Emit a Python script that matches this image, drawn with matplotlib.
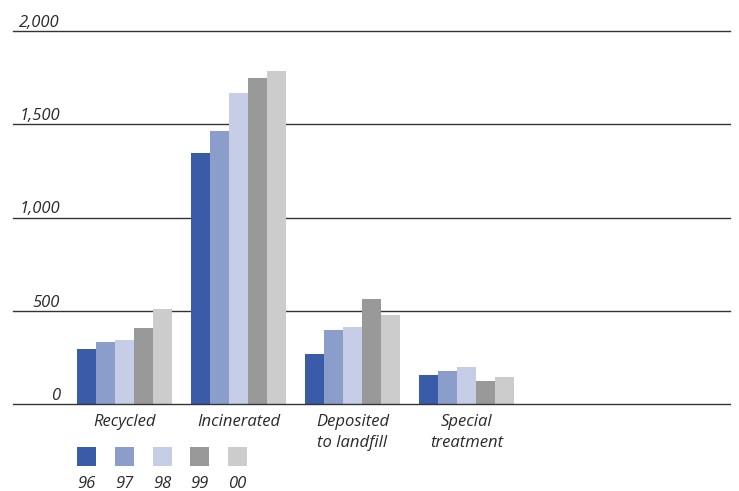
import matplotlib
matplotlib.use("Agg")
import matplotlib.pyplot as plt
from matplotlib.patches import Rectangle
import numpy as np

categories = ["Recycled", "Incinerated", "Deposited\nto landfill", "Special\ntreatment"]
years = ["96", "97", "98", "99", "00"]
values = {
    "96": [295, 1346, 268, 155],
    "97": [332, 1464, 397, 177],
    "98": [343, 1668, 413, 198],
    "99": [407, 1748, 563, 123],
    "00": [509, 1786, 477, 145],
}
colors = ["#3A5BA8", "#8A9DCB", "#C5CEE6", "#999999", "#CCCCCC"]
yticks = [0, 500, 1000, 1500, 2000]
ytick_labels = ["0", "500", "1,000", "1,500", "2,000"]

W, H = 739, 491
fig = plt.figure(figsize=(W / 100, H / 100), dpi=100)
FONT = "Open Sans"
FW = "normal"
FS = 12
TC = "#2a2a2a"

def fx(px):
    return px / W

def fy(py):
    return 1 - py / H

ax_left, ax_right, ax_top, ax_bottom = 13, 730, 31, 404
ax = fig.add_axes([fx(ax_left), fy(ax_bottom), fx(ax_right - ax_left), (ax_bottom - ax_top) / H])
ax.set_ylim(0, 2000)
pitch = 114.0
g0 = 124.5
ax.set_xlim(-(g0 - ax_left) / pitch, (ax_right - g0) / pitch)
ax.axis("off")

bw = 19 / pitch
x = np.arange(len(categories))
for i, (yr, c) in enumerate(zip(years, colors)):
    ax.bar(x + (i - 2) * bw, values[yr], width=bw, color=c, linewidth=0, zorder=2)

for t in yticks:
    ax.axhline(t, color="#333333", lw=1.0, zorder=3 if t == 0 else 1, clip_on=False)

for t, lab in zip(yticks, ytick_labels):
    ax.annotate(lab, xy=(fx(60), t), xycoords=("figure fraction", "data"),
                xytext=(0, 3), textcoords="offset points",
                ha="right", va="baseline", fontsize=FS, style="italic", weight=FW,
                family=FONT, color=TC)

for i, cat in enumerate(categories):
    ax.annotate(cat, xy=(i, 0), xycoords="data", xytext=(0, -7), textcoords="offset points",
                ha="center", va="top", fontsize=FS, style="italic", family=FONT, weight=FW,
                color=TC, linespacing=1.45)

for i, (yr, c) in enumerate(zip(years, colors)):
    lx = 77 + i * 37.75
    fig.patches.append(Rectangle((fx(lx), fy(466)), fx(19), 19 / H,
                                 transform=fig.transFigure, color=c, linewidth=0))
    fig.text(fx(lx + 9.5), fy(488), yr, ha="center", va="baseline", fontsize=FS,
             style="italic", family=FONT, weight=FW, color=TC)

fig.savefig("out.png", dpi=100)
